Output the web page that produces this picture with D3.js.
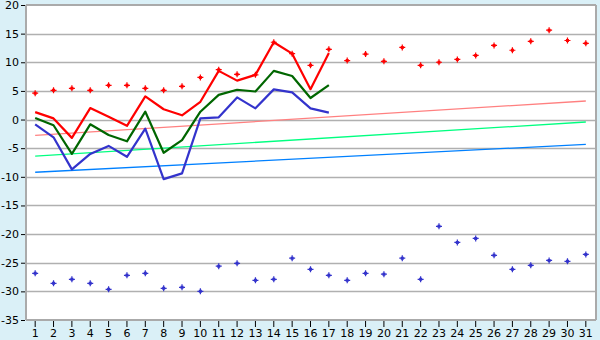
<!DOCTYPE html>
<html><head><meta charset="utf-8">
<script src="https://cdn.jsdelivr.net/npm/d3@7"></script>
<style>html,body{margin:0;padding:0;background:#daf0f7;}svg{display:block;}</style>
</head><body>
<svg id="c" width="600" height="340"></svg>
<script>
const days = d3.range(1, 32);
const yTicks = [20,15,10,5,0,-5,-10,-15,-20,-25,-30,-35];
const maxLine = [1.3,0.2,-3.2,2.0,0.5,-1.1,4.05,1.8,0.74,3.1,8.5,6.8,7.8,13.5,11.5,5.3,11.6];
const meanLine = [0.27,-1.0,-6.0,-0.83,-2.7,-3.8,1.37,-5.8,-3.6,1.37,4.3,5.2,4.9,8.5,7.6,3.76,6.0];
const minLine = [-0.83,-3.1,-8.7,-6.0,-4.6,-6.5,-1.6,-10.4,-9.4,0.2,0.38,3.87,1.96,5.27,4.75,1.96,1.2];
const recMax = [4.6,5.1,5.45,5.1,5.97,5.97,5.45,5.1,5.8,7.35,8.7,7.9,7.8,13.5,11.5,9.47,12.26,10.3,11.44,10.16,12.6,9.47,10.0,10.5,11.2,12.95,12.1,13.65,15.6,13.8,13.3];
const recMin = [-26.85,-28.6,-27.9,-28.6,-29.65,-27.2,-26.85,-29.47,-29.3,-30.0,-25.6,-25.1,-28.07,-27.9,-24.2,-26.15,-27.2,-28.07,-26.85,-27.0,-24.2,-27.9,-18.65,-21.45,-20.75,-23.7,-26.15,-25.45,-24.6,-24.75,-23.55];
const normDays = [1, 31];
const normMax = [-2.76, 3.24];
const normMean = [-6.37, -0.43];
const normMin = [-9.2, -4.33];

const svg = d3.select('#c');
const L = 26, R = 595, T = 5, B = 320;
const x = d3.scaleBand().domain(days).range([L, R]);
const cx = d => x(d) + x.bandwidth()/2;
const y = d3.scaleLinear().domain([-35, 20]).range([B, T]);

svg.append('rect').attr('x', L).attr('y', T).attr('width', R-L).attr('height', B-T).attr('fill', '#fff');
svg.append('g').selectAll('line').data(yTicks.filter(v => v !== 20 && v !== -35)).join('line')
  .attr('x1', L).attr('x2', R).attr('y1', d => Math.round(y(d))+0.5).attr('y2', d => Math.round(y(d))+0.5)
  .attr('stroke', '#b0b0b0').attr('stroke-width', 1.5);
svg.append('line').attr('x1', L).attr('x2', R+1).attr('y1', T).attr('y2', T).attr('stroke', '#aaa').attr('stroke-width', 2);
svg.append('line').attr('x1', R+1).attr('x2', R+1).attr('y1', T).attr('y2', B).attr('stroke', '#aaa').attr('stroke-width', 2);
svg.append('line').attr('x1', L).attr('x2', R+1).attr('y1', B).attr('y2', B).attr('stroke', '#aaa').attr('stroke-width', 2);
svg.append('line').attr('x1', L).attr('x2', L).attr('y1', T).attr('y2', B).attr('stroke', '#aaa').attr('stroke-width', 2);

const font = '"DejaVu Sans", sans-serif';
const ya = svg.append('g').attr('transform', `translate(${L-1},0)`)
  .call(d3.axisLeft(y).tickValues(yTicks).tickSize(4).tickSizeOuter(0).tickPadding(2).tickFormat(d => String(d)));
ya.select('.domain').remove();
ya.selectAll('text').attr('font-family', font).attr('font-size', 11).attr('fill', '#000');
ya.selectAll('line').attr('stroke', '#000');
const xa = svg.append('g').attr('transform', `translate(0,${B+1})`)
  .call(d3.axisBottom(x).tickSize(6).tickSizeOuter(0).tickPadding(2));
xa.select('.domain').remove();
xa.selectAll('text').attr('font-family', font).attr('font-size', 11).attr('fill', '#000');
xa.selectAll('line').attr('stroke', '#000');

function seg(xs, vs, color) {
  svg.append('path').datum(xs.map((d,i)=>[d, vs[i]]))
    .attr('d', d3.line().x(d => cx(d[0])).y(d => y(d[1])))
    .attr('fill', 'none').attr('stroke', color).attr('stroke-width', 1.3);
}
seg(normDays, normMax, '#ff8080');
seg(normDays, normMean, '#00ff80');
seg(normDays, normMin, '#0080ff');

function thick(vs, color) {
  svg.append('path').datum(vs)
    .attr('d', d3.line().x((d,i) => cx(days[i])).y(d => y(d)))
    .attr('fill', 'none').attr('stroke', color).attr('stroke-width', 2.2).attr('stroke-linejoin', 'round');
}
thick(minLine, '#3333cc');
thick(meanLine, '#006600');
thick(maxLine, '#ff0000');

function marks(vs, color) {
  const g = svg.append('g').attr('fill', color);
  g.selectAll('path').data(vs).join('path')
    .attr('transform', (d,i) => `translate(${cx(days[i])},${y(d)})`)
    .attr('d', 'M-0.6,-3H0.6V-0.6H3V0.6H0.6V3H-0.6V0.6H-3V-0.6H-0.6Z M-1.5,-1.5H1.5V1.5H-1.5Z');
}
marks(recMax, '#ff0000');
marks(recMin, '#3333cc');
</script>
</body></html>
